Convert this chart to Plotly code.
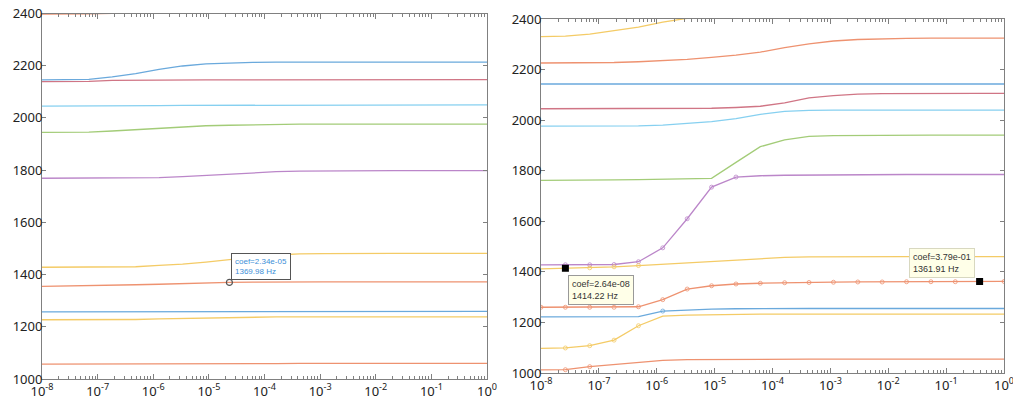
import plotly.graph_objects as go

# coefficient sweep (20 log-spaced values, as read from the datatips)
coef = [1.00e-08, 2.64e-08, 6.95e-08, 1.83e-07, 4.83e-07, 1.27e-06, 3.36e-06,
        8.86e-06, 2.34e-05, 6.16e-05, 1.62e-04, 4.28e-04, 1.13e-03, 2.98e-03,
        7.85e-03, 2.07e-02, 5.46e-02, 1.44e-01, 3.79e-01, 1.00e+00]

# left panel frequencies (Hz)
L_orange_top = [2398, 2398, 2399, 2401, 2410, 2425, 2440, 2450, 2455, 2458, 2460, 2460, 2460, 2460, 2460, 2460, 2460, 2460, 2460, 2460]
L_blue_hi = [2146, 2146, 2148, 2157, 2170, 2186, 2199, 2207, 2211, 2213, 2214, 2214, 2214, 2214, 2214, 2214, 2214, 2214, 2214, 2214]
L_red = [2139, 2139, 2140, 2144, 2145, 2145, 2146, 2146, 2146, 2146, 2147, 2147, 2147, 2147, 2147, 2147, 2147, 2147, 2147, 2147]
L_ltblue = [2045, 2045, 2045, 2045, 2045, 2047, 2048, 2048, 2048, 2049, 2049, 2050, 2050, 2050, 2050, 2050, 2050, 2050, 2050, 2050]
L_green = [1945, 1945, 1946, 1950, 1955, 1961, 1966, 1970, 1972, 1974, 1975, 1976, 1976, 1976, 1976, 1976, 1976, 1976, 1976, 1976]
L_purple = [1769, 1769, 1769, 1769, 1769, 1771, 1775, 1780, 1785, 1790, 1794, 1796, 1797, 1798, 1798, 1798, 1798, 1798, 1798, 1798]
L_yellow_hi = [1428, 1428, 1428, 1428, 1430, 1435, 1440, 1448, 1458, 1467, 1475, 1479, 1480, 1481, 1481, 1481, 1481, 1481, 1481, 1481]
L_orange_mid = [1355, 1356, 1357, 1359, 1361, 1363, 1366, 1368, 1369.98, 1371, 1372, 1372, 1372, 1372, 1372, 1372, 1372, 1372, 1372, 1372]
L_blue_lo = [1257, 1257, 1257, 1257, 1257, 1257, 1257, 1258, 1258, 1258, 1258, 1258, 1259, 1259, 1259, 1259, 1259, 1259, 1259, 1259]
L_yellow_lo = [1227, 1227, 1227, 1227, 1228, 1230, 1232, 1234, 1236, 1237, 1238, 1238, 1238, 1238, 1238, 1238, 1238, 1238, 1238, 1238]
L_orange_lo = [1057, 1057, 1057, 1057, 1057, 1058, 1058, 1058, 1059, 1059, 1059, 1060, 1060, 1060, 1060, 1060, 1060, 1060, 1060, 1060]

# right panel frequencies (Hz)
R_yellow_top = [2330, 2332, 2340, 2353, 2368, 2388, 2403, 2418, 2432, 2444, 2452, 2457, 2460, 2461, 2462, 2462, 2462, 2462, 2462, 2462]
R_orange_top = [2226, 2226, 2227, 2228, 2231, 2235, 2240, 2248, 2257, 2269, 2287, 2302, 2313, 2319, 2322, 2323, 2324, 2324, 2324, 2324]
R_blue_top = [2143, 2143, 2143, 2143, 2143, 2143, 2143, 2143, 2143, 2143, 2143, 2143, 2143, 2143, 2143, 2143, 2143, 2143, 2143, 2143]
R_darkred = [2045, 2045, 2045, 2045, 2045, 2045, 2046, 2047, 2050, 2055, 2068, 2088, 2097, 2103, 2105, 2106, 2106, 2106, 2106, 2106]
R_ltblue = [1976, 1976, 1976, 1976, 1977, 1980, 1986, 1994, 2006, 2023, 2035, 2039, 2040, 2040, 2040, 2040, 2040, 2040, 2040, 2040]
R_green = [1762, 1762, 1763, 1764, 1765, 1766, 1768, 1770, 1833, 1895, 1922, 1936, 1939, 1940, 1941, 1941, 1941, 1941, 1941, 1941]
R_purple = [1428, 1428, 1428, 1429, 1440, 1495, 1610, 1735, 1775, 1780, 1782, 1783, 1784, 1785, 1785, 1785, 1785, 1785, 1785, 1785]
R_yellow_mid = [1412, 1414.22, 1416, 1420, 1425, 1430, 1435, 1441, 1447, 1452, 1457, 1459, 1460, 1460, 1460, 1460, 1460, 1460, 1460, 1460]
R_orange_mid = [1260, 1260, 1260, 1260, 1262, 1290, 1332, 1345, 1352, 1355, 1357, 1358, 1359, 1360, 1360, 1361, 1361, 1361, 1361.91, 1362]
R_blue_lo = [1222, 1222, 1222, 1222, 1223, 1245, 1250, 1253, 1254, 1255, 1255, 1255, 1255, 1255, 1255, 1255, 1255, 1255, 1255, 1255]
R_yellow_lo = [1097, 1099, 1108, 1130, 1187, 1225, 1229, 1231, 1232, 1233, 1233, 1233, 1233, 1233, 1233, 1233, 1233, 1233, 1233, 1233]
R_orange_lo = [1012, 1013, 1025, 1034, 1043, 1050, 1053, 1054, 1055, 1055, 1055, 1055, 1055, 1055, 1055, 1055, 1055, 1055, 1055, 1055]

tick_exp = [-8, -7, -6, -5, -4, -3, -2, -1, 0]
y_ticks = [1000, 1200, 1400, 1600, 1800, 2000, 2200, 2400]

# faded MATLAB palette
BLUE = '#6aa9dc'
ORANGE = '#ee9270'
YELLOW = '#f4cb66'
PURPLE = '#bb86c9'
GREEN = '#a3cc78'
LTBLUE = '#86d0f0'
DKRED = '#d07585'

fig = go.Figure()


def add(x, y, color, axis, mark=None):
    xa, ya = ('x', 'y') if axis == 1 else ('x2', 'y2')
    tr = dict(x=x, y=y, mode='lines', line=dict(color=color, width=1.3),
              xaxis=xa, yaxis=ya, showlegend=False, hoverinfo='skip')
    if mark is not None:
        lo, hi = mark
        tr['mode'] = 'lines+markers'
        tr['marker'] = dict(symbol='circle-open', size=[4 if lo <= i < hi else 0 for i in range(len(x))],
                            color=color, line=dict(width=1), opacity=0.8)
    fig.add_trace(go.Scatter(**tr))


left = [(L_orange_top, ORANGE), (L_blue_hi, BLUE), (L_red, DKRED), (L_ltblue, LTBLUE),
        (L_green, GREEN), (L_purple, PURPLE), (L_yellow_hi, YELLOW), (L_orange_mid, ORANGE),
        (L_blue_lo, BLUE), (L_yellow_lo, YELLOW), (L_orange_lo, ORANGE)]
for ys, c in left:
    add(coef, ys, c, 1)

right = [(R_yellow_top, YELLOW, None), (R_orange_top, ORANGE, None), (R_blue_top, BLUE, None),
         (R_darkred, DKRED, None), (R_ltblue, LTBLUE, None), (R_green, GREEN, None),
         (R_purple, PURPLE, (1, 9)), (R_yellow_mid, YELLOW, (1, 5)), (R_orange_mid, ORANGE, (0, 20)),
         (R_blue_lo, BLUE, (5, 6)), (R_yellow_lo, YELLOW, (1, 5)), (R_orange_lo, ORANGE, (1, 3))]
for ys, c, m in right:
    add(coef, ys, c, 2, m)

# datatip markers
fig.add_trace(go.Scatter(x=[coef[8]], y=[L_orange_mid[8]], mode='markers', xaxis='x', yaxis='y',
                         marker=dict(symbol='circle-open', size=6, color='#555555', line=dict(width=1.2)),
                         showlegend=False, hoverinfo='skip'))
fig.add_trace(go.Scatter(x=[coef[1], coef[18]], y=[R_yellow_mid[1], R_orange_mid[18]], mode='markers',
                         xaxis='x2', yaxis='y2', marker=dict(symbol='square', size=7, color='black'),
                         showlegend=False, hoverinfo='skip'))

fig.add_annotation(x=-4.631, y=1369.98, xref='x', yref='y', xanchor='left', yanchor='bottom',
                   xshift=2, yshift=2, showarrow=False, align='left',
                   text='coef=2.34e-05<br>1369.98 Hz',
                   font=dict(family='Liberation Sans', size=8, color='#3d8fd8'),
                   bgcolor='white', bordercolor='#555555', borderwidth=1, borderpad=3)
fig.add_annotation(x=-7.579, y=1414.22, xref='x2', yref='y2', xanchor='left', yanchor='top',
                   xshift=3, yshift=-7, showarrow=False, align='left',
                   text='coef=2.64e-08<br>1414.22 Hz',
                   font=dict(family='Liberation Sans', size=9, color='#333333'),
                   bgcolor='#ffffe8', bordercolor='#999999', borderwidth=1, borderpad=3)
fig.add_annotation(x=-0.421, y=1361.91, xref='x2', yref='y2', xanchor='right', yanchor='bottom',
                   xshift=-5, yshift=3, showarrow=False, align='left',
                   text='coef=3.79e-01<br>1361.91 Hz',
                   font=dict(family='Liberation Sans', size=9, color='#333333'),
                   bgcolor='#ffffe8', bordercolor='#d8d8c0', borderwidth=1, borderpad=3)

# minor ticks at 2..9 within each decade
minor_vals = [m * 10 ** e for e in tick_exp[:-1] for m in range(2, 10)]

xaxis_style = dict(type='log', range=[-8, 0], tickvals=[10 ** e for e in tick_exp],
                   ticktext=['10<sup>%d</sup>' % e for e in tick_exp], automargin=False,
                   ticklabeloverflow='allow',
                   ticks='inside', ticklen=5, tickcolor='#808080', showline=True, linecolor='#808080',
                   mirror='ticks', showgrid=False, zeroline=False,
                   minor=dict(ticks='inside', ticklen=3, tickcolor='#808080', showgrid=False,
                              tickmode='array', tickvals=minor_vals),
                   tickfont=dict(family='Noto Sans', size=13, color='#222222'))
yaxis_style = dict(range=[1000, 2400], tickvals=y_ticks, ticks='inside', ticklen=4, tickcolor='#808080',
                   showline=True, linecolor='#808080', mirror='ticks', showgrid=False, zeroline=False,
                   automargin=False, ticklabelstandoff=-4,
                   tickfont=dict(family='Noto Sans', size=13, color='#222222'))

fig.update_layout(
    width=1013, height=396, autosize=False,
    margin=dict(l=0, r=0, t=0, b=0),
    paper_bgcolor='white', plot_bgcolor='white',
    xaxis=dict(xaxis_style, domain=[42 / 1013, 487 / 1013], anchor='y'),
    yaxis=dict(yaxis_style, domain=[17 / 396, 382.5 / 396], anchor='x'),
    xaxis2=dict(xaxis_style, domain=[541 / 1013, 1004 / 1013], anchor='y2'),
    yaxis2=dict(yaxis_style, domain=[23 / 396, 377 / 396], anchor='x2'),
)

# page body has a default 8px margin; drop it so the figure fills the window
fig.write_html("out.html", config={'displayModeBar': False},
               post_script="document.body.style.margin='0';")
